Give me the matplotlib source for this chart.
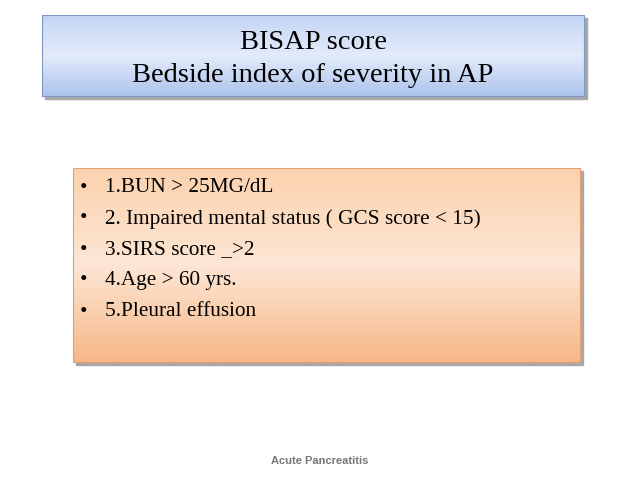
import matplotlib
matplotlib.use("Agg")
import matplotlib.pyplot as plt
import numpy as np
from matplotlib.patches import Rectangle

title_lines = ["BISAP score", "Bedside index of severity in AP"]
bullets = ["1.BUN > 25MG/dL",
           "2. Impaired mental status ( GCS score < 15)",
           "3.SIRS score _>2",
           "4.Age > 60 yrs.",
           "5.Pleural effusion"]
footer = "Acute Pancreatitis"

fig = plt.figure(figsize=(6.38, 4.79), dpi=100)
ax = fig.add_axes([0, 0, 1, 1])
ax.set_xlim(0, 638); ax.set_ylim(479, 0); ax.axis("off")

def grad_box(x0, y0, x1, y1, ctop, cmid, cbot, edge):
    ax.add_patch(Rectangle((x0+3, y0+3), x1-x0, y1-y0, color="#a8a8a8", zorder=1))
    ctop, cmid, cbot = [np.array(matplotlib.colors.to_rgb(c)) for c in (ctop, cmid, cbot)]
    rows = []
    for v in np.linspace(0, 1, 100):
        if v < 0.5:
            rows.append(ctop + (cmid-ctop)*(v/0.5))
        else:
            rows.append(cmid + (cbot-cmid)*((v-0.5)/0.5))
    img = np.array(rows)[:, None, :]
    ax.imshow(img, extent=(x0, x1, y1, y0), aspect="auto", zorder=2)
    ax.add_patch(Rectangle((x0, y0), x1-x0, y1-y0, fill=False, ec=edge, lw=0.8, zorder=3))

grad_box(42, 15, 584, 96, "#c4d5f3", "#e3ebfb", "#adc3ec", "#7f96c4")
grad_box(73, 168, 580, 362, "#fbd2ae", "#fde6d4", "#f7b888", "#e8a070")

ax.set_xlim(0, 638); ax.set_ylim(479, 0)

for i, line in enumerate(title_lines):
    ax.text(313, 42 + i*33, line, ha="center", va="center",
            fontfamily="Liberation Serif", fontsize=20.5, zorder=4)

for i, b in enumerate(bullets):
    y = 188 + i*31
    ax.text(80, y, "•", ha="left", va="center", fontfamily="Liberation Serif", fontsize=15.3, zorder=4)
    ax.text(105, y, b, ha="left", va="center", fontfamily="Liberation Serif", fontsize=15.3, zorder=4)

ax.text(320, 461, footer, ha="center", va="center", fontfamily="Liberation Sans",
        fontsize=8, color="#777777", fontweight="bold", zorder=4)

fig.savefig("out.png", dpi=100, facecolor="white")
